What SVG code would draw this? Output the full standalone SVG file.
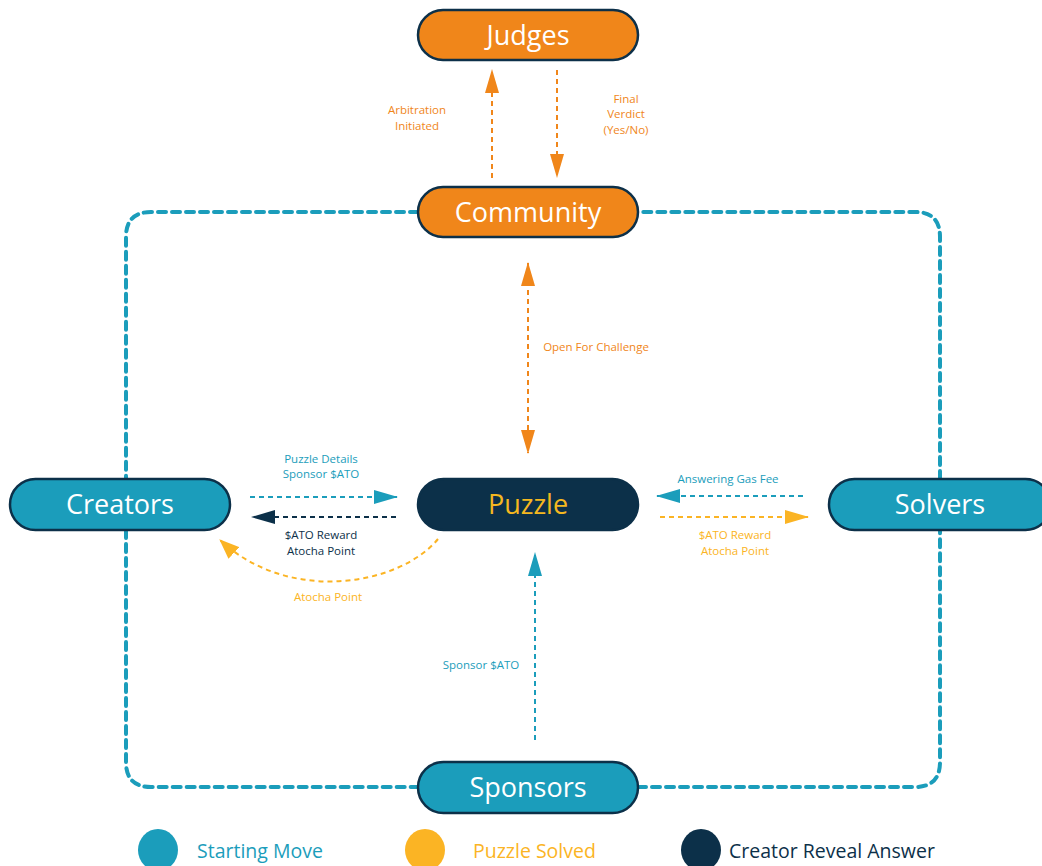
<svg xmlns="http://www.w3.org/2000/svg" width="1042" height="866" viewBox="0 0 1042 866">
<defs>
<style>
.node{stroke:#0c3049;stroke-width:2.5}
.or{fill:#f0861a}
.te{fill:#1b9dbb}
.dk{fill:#0c3049}
.nt{font-family:"Open Sans","Liberation Sans",sans-serif;font-size:27px;fill:#fff;text-anchor:middle}
.lb{font-family:"Open Sans","Liberation Sans",sans-serif;font-size:11.5px;text-anchor:middle}
.lg{font-family:"Open Sans","Liberation Sans",sans-serif;font-size:19.5px}
.border{fill:none;stroke:#1b9dbb;stroke-width:4;stroke-dasharray:8 6;stroke-linecap:round}
.ar{fill:none;stroke-width:2;stroke-dasharray:5 4}
</style>
<marker id="mO" markerUnits="userSpaceOnUse" markerWidth="24" markerHeight="14" refX="23" refY="7" orient="auto"><path d="M0,0 L24,7 L0,14 Z" fill="#f0861a"/></marker>
<marker id="mOs" markerUnits="userSpaceOnUse" markerWidth="24" markerHeight="14" refX="1" refY="7" orient="auto"><path d="M24,0 L0,7 L24,14 Z" fill="#f0861a"/></marker>
<marker id="mT" markerUnits="userSpaceOnUse" markerWidth="24" markerHeight="14" refX="23" refY="7" orient="auto"><path d="M0,0 L24,7 L0,14 Z" fill="#1b9dbb"/></marker>
<marker id="mD" markerUnits="userSpaceOnUse" markerWidth="24" markerHeight="14" refX="23" refY="7" orient="auto"><path d="M0,0 L24,7 L0,14 Z" fill="#0c3049"/></marker>
<marker id="mY" markerUnits="userSpaceOnUse" markerWidth="24" markerHeight="14" refX="23" refY="7" orient="auto"><path d="M0,0 L24,7 L0,14 Z" fill="#fbb424"/></marker>
<marker id="mYc" markerUnits="userSpaceOnUse" markerWidth="20" markerHeight="16" refX="19" refY="8" orient="auto"><path d="M0,0 L20,8 L0,16 Z" fill="#fbb424"/></marker>
</defs>
<rect width="1042" height="866" fill="#fff"/>

<g id="connectors">
<path class="border" d="M418,212 H151 Q126,212 126,237 V479 M126,530 V762 Q126,787 151,787 H418 M638,787 H915 Q940,787 940,762 V530 M940,479 V237 Q940,212 915,212 H638"/>
<line class="ar" x1="492" y1="178" x2="492" y2="70" stroke="#f0861a" marker-end="url(#mO)"/>
<line class="ar" x1="557" y1="70" x2="557" y2="177" stroke="#f0861a" marker-end="url(#mO)"/>
<line class="ar" x1="528" y1="263" x2="528" y2="453" stroke="#f0861a" marker-start="url(#mOs)" marker-end="url(#mO)"/>
<line class="ar" x1="250" y1="497" x2="397" y2="497" stroke="#1b9dbb" marker-end="url(#mT)"/>
<line class="ar" x1="396" y1="517" x2="252" y2="517" stroke="#0c3049" marker-end="url(#mD)"/>
<path class="ar" d="M438,539 C400,585 290,605 220,540" stroke="#fbb424" marker-end="url(#mYc)"/>
<line class="ar" x1="803" y1="496" x2="657" y2="496" stroke="#1b9dbb" marker-end="url(#mT)"/>
<line class="ar" x1="660" y1="517" x2="808" y2="517" stroke="#fbb424" marker-end="url(#mY)"/>
<line class="ar" x1="535" y1="740" x2="535" y2="553" stroke="#1b9dbb" marker-end="url(#mT)"/>
</g>

<g id="labels">
<text class="lb" fill="#f0861a" x="417" y="114">Arbitration</text>
<text class="lb" fill="#f0861a" x="417" y="130">Initiated</text>
<text class="lb" fill="#f0861a" x="626" y="103">Final</text>
<text class="lb" fill="#f0861a" x="626" y="118">Verdict</text>
<text class="lb" fill="#f0861a" x="626" y="134">(Yes/No)</text>
<text class="lb" fill="#f0861a" x="596" y="351">Open For Challenge</text>
<text class="lb" fill="#1b9dbb" x="321" y="463">Puzzle Details</text>
<text class="lb" fill="#1b9dbb" x="321" y="478">Sponsor $ATO</text>
<text class="lb" fill="#0c3049" x="321" y="539">$ATO Reward</text>
<text class="lb" fill="#0c3049" x="321" y="555">Atocha Point</text>
<text class="lb" fill="#fbb424" x="328" y="601">Atocha Point</text>
<text class="lb" fill="#1b9dbb" x="728" y="483">Answering Gas Fee</text>
<text class="lb" fill="#fbb424" x="735" y="539">$ATO Reward</text>
<text class="lb" fill="#fbb424" x="735" y="555">Atocha Point</text>
<text class="lb" fill="#1b9dbb" x="481" y="669">Sponsor $ATO</text>
</g>

<g id="judges"><rect class="node or" x="418" y="10" width="220" height="50" rx="25"/><text class="nt" x="528" y="45">Judges</text></g>
<g id="community"><rect class="node or" x="418" y="187" width="220" height="50" rx="25"/><text class="nt" x="528" y="222">Community</text></g>
<g id="puzzle"><rect class="node dk" x="418" y="479" width="220" height="51" rx="25.5"/><text class="nt" x="528" y="514" style="fill:#f5b820">Puzzle</text></g>
<g id="creators"><rect class="node te" x="10" y="479" width="220" height="51" rx="25.5"/><text class="nt" x="120" y="514">Creators</text></g>
<g id="solvers"><rect class="node te" x="829" y="479" width="222" height="51" rx="25.5"/><text class="nt" x="940" y="514">Solvers</text></g>
<g id="sponsors"><rect class="node te" x="418" y="762" width="220" height="51" rx="25.5"/><text class="nt" x="528" y="797">Sponsors</text></g>

<g id="legend">
<ellipse cx="158" cy="850" rx="20" ry="21" fill="#1b9dbb"/>
<text class="lg" x="197" y="858" fill="#1b9dbb">Starting Move</text>
<ellipse cx="425" cy="850" rx="20" ry="21" fill="#fbb424"/>
<text class="lg" x="473" y="858" fill="#fbb424">Puzzle Solved</text>
<ellipse cx="701" cy="850" rx="20" ry="21" fill="#0c3049"/>
<text class="lg" x="729" y="858" fill="#0c3049">Creator Reveal Answer</text>
</g>
</svg>
